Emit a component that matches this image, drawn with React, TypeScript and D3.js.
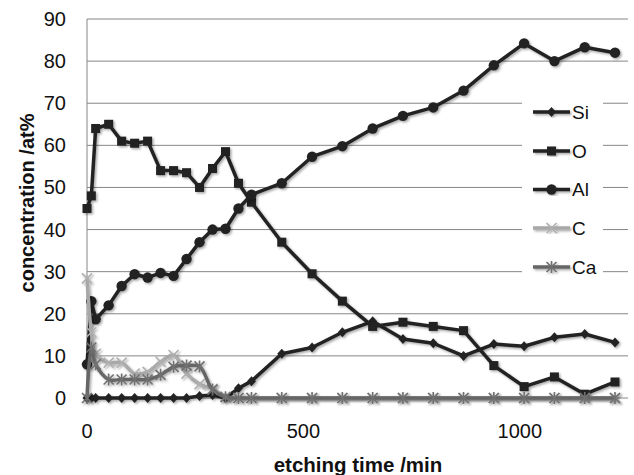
import * as d3 from "d3";

// etching time (min) shared by all series
const times = [0, 10, 20, 50, 80, 110, 140, 170, 200, 230, 260, 290, 320, 350, 380, 450, 520, 590, 660, 730, 800, 870, 940, 1010, 1080, 1150, 1220];

const si = [0, 0, 0, 0, 0, 0, 0, 0, 0, 0, 0.5, 0.7, 0, 2.3, 4, 10.5, 12, 15.6, 18.2, 14, 13, 10, 12.8, 12.3, 14.4, 15.2, 13.2];
const o = [45, 48, 64, 65, 61, 60.5, 61, 54, 54, 53.5, 50, 54.5, 58.5, 51, 46.5, 37, 29.5, 23, 17, 18, 17, 16, 7.7, 2.7, 5, 0.9, 3.8];
const al = [8, 23, 18.7, 22, 26.6, 29.4, 28.6, 29.7, 29, 33, 37, 40, 40.2, 45, 48.3, 51, 57.3, 59.8, 64, 67, 69, 73, 79, 84.2, 80, 83.3, 82];
const c = [28.4, 15.6, 10.5, 8.4, 8.4, 5.8, 6.2, 8.6, 10.2, 5.8, 3.3, 2.2, 0.3, 0, 0, 0, 0, 0, 0, 0, 0, 0, 0, 0, 0, 0, 0];
const ca = [0, 12, 8, 4.4, 4.4, 4.4, 4.4, 5.5, 7.4, 7.7, 7.5, 2, 0.2, 0, 0, 0, 0, 0, 0, 0, 0, 0, 0, 0, 0, 0, 0];

const seriesNames = ["Si", "O", "Al", "C", "Ca"];
const yTicks = [0, 10, 20, 30, 40, 50, 60, 70, 80, 90];
const xTicks = [0, 500, 1000];

const W = 634;
const H = 475;
const FONT = "'Liberation Sans', Arial, sans-serif";

const x = d3.scaleLinear().domain([0, 1250]).range([87, 628]);
const y = d3.scaleLinear().domain([0, 90]).range([398, 19]);

const dark = "#222222";

const series = [
  { name: seriesNames[0], values: si, color: dark, mcolor: dark, marker: "diamond", smooth: false },
  { name: seriesNames[1], values: o, color: dark, mcolor: dark, marker: "square", smooth: false },
  { name: seriesNames[2], values: al, color: dark, mcolor: dark, marker: "circle", smooth: false },
  { name: seriesNames[3], values: c, color: "#a8a8a8", mcolor: "#b0b0b0", marker: "x", smooth: true },
  { name: seriesNames[4], values: ca, color: "#666666", mcolor: "#707070", marker: "star", smooth: true },
];

const Marker = ({ kind, cx, cy, color }: { kind: string; cx: number; cy: number; color: string }) => {
  if (kind === "diamond") {
    return <path d={`M${cx},${cy - 5}L${cx + 4.5},${cy}L${cx},${cy + 5}L${cx - 4.5},${cy}Z`} fill={color} />;
  }
  if (kind === "square") {
    return <rect x={cx - 4.5} y={cy - 4.5} width={9} height={9} fill={color} />;
  }
  if (kind === "circle") {
    return <circle cx={cx} cy={cy} r={5.2} fill={color} />;
  }
  const r = 5;
  const xs = `M${cx - r},${cy - r}L${cx + r},${cy + r}M${cx - r},${cy + r}L${cx + r},${cy - r}`;
  const d = kind === "star" ? xs + `M${cx},${cy - r - 1}L${cx},${cy + r + 1}` : xs;
  return <path d={d} stroke={color} strokeWidth={1.6} fill="none" />;
};

const App = () => {
  const straight = d3
    .line<number>()
    .x((_, i) => x(times[i]))
    .y((d) => y(d));
  const smooth = d3
    .line<number>()
    .x((_, i) => x(times[i]))
    .y((d) => y(d))
    .curve(d3.curveCatmullRom.alpha(0.5));

  const legendRows = [112, 151, 189.5, 228, 267];

  return (
    <svg
      width={W}
      height={H}
      style={{ position: "absolute", left: 0, top: 0, background: "#fff" }}
      fontFamily={FONT}
    >
      <defs>
        <filter id="shadow" x="-10%" y="-10%" width="120%" height="120%">
          <feDropShadow dx={1.5} dy={1.5} stdDeviation={1} floodColor="#000" floodOpacity={0.35} />
        </filter>
      </defs>

      {/* gridlines */}
      {yTicks.map((t) => (
        <line key={t} x1={87} x2={628} y1={y(t)} y2={y(t)} stroke="#868686" strokeWidth={1} />
      ))}
      <line x1={87} x2={87} y1={19} y2={398} stroke="#868686" strokeWidth={1} />

      {/* y tick labels */}
      {yTicks.map((t) => (
        <text key={t} x={66} y={y(t)} textAnchor="end" dominantBaseline="central" fontSize={20} fill="#111">
          {t}
        </text>
      ))}

      {/* x tick labels */}
      {xTicks.map((t) => (
        <text key={t} x={x(t)} y={431} textAnchor="middle" dominantBaseline="central" fontSize={20} fill="#111">
          {t}
        </text>
      ))}

      <text x={358} y={464} textAnchor="middle" dominantBaseline="central" fontSize={20.5} fontWeight="bold" fill="#111">
        etching time /min
      </text>
      <text
        transform="translate(27,203) rotate(-90)"
        textAnchor="middle"
        dominantBaseline="central"
        fontSize={20}
        fontWeight="bold"
        fill="#111"
      >
        concentration /at%
      </text>

      {/* series */}
      {series.map((s) => (
        <g key={s.name} filter="url(#shadow)">
          <path
            d={(s.smooth ? smooth : straight)(s.values) || ""}
            fill="none"
            stroke={s.color}
            strokeWidth={3.5}
            strokeLinejoin="round"
          />
          {s.values.map((v, i) => (
            <Marker key={i} kind={s.marker} cx={x(times[i])} cy={y(v)} color={s.mcolor} />
          ))}
        </g>
      ))}

      {/* legend */}
      <rect x={522} y={90} width={81} height={200} fill="#fff" />
      {series.map((s, i) => (
        <g key={s.name} filter="url(#shadow)">
          <line x1={533} x2={570} y1={legendRows[i]} y2={legendRows[i]} stroke={s.color} strokeWidth={3.5} />
          <Marker kind={s.marker} cx={551.5} cy={legendRows[i]} color={s.mcolor} />
        </g>
      ))}
      {series.map((s, i) => (
        <text key={s.name} x={572} y={legendRows[i]} dominantBaseline="central" fontSize={19} fill="#111">
          {s.name}
        </text>
      ))}
    </svg>
  );
};

export default App;
